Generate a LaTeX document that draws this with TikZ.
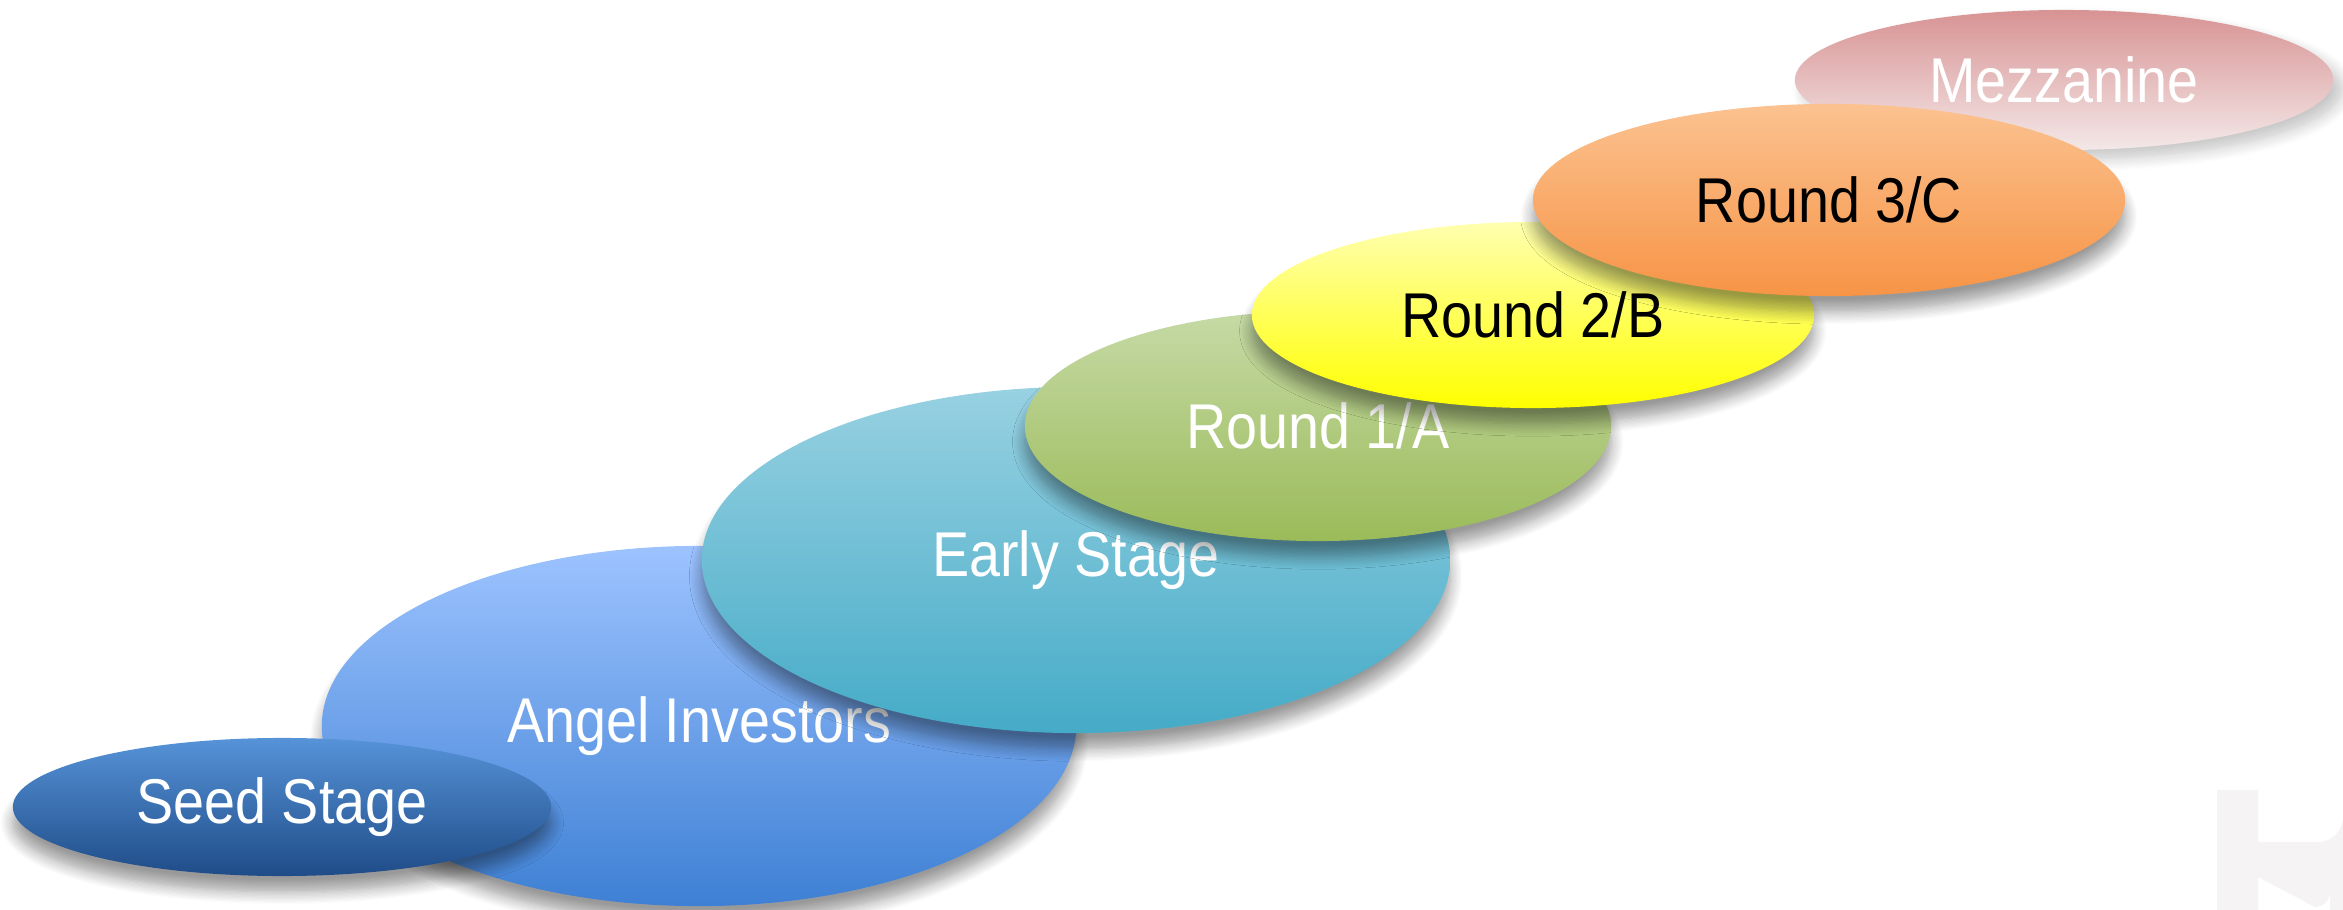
\documentclass[tikz,border=0pt]{standalone}
\usepackage{fontspec}
\setmainfont{Liberation Sans}[FakeStretch=0.88]
\usetikzlibrary{shapes.geometric,shadows.blur}
\definecolor{seedT}{HTML}{5693D8}
\definecolor{seedB}{HTML}{1F4C88}
\definecolor{angelT}{HTML}{9DC3FF}
\definecolor{angelB}{HTML}{3E80D4}
\definecolor{earlyT}{HTML}{98D1E2}
\definecolor{earlyB}{HTML}{45ABC7}
\definecolor{roneT}{HTML}{C6DAA6}
\definecolor{roneB}{HTML}{9BBB59}
\definecolor{rtwoT}{HTML}{FFFFB0}
\definecolor{rtwoB}{HTML}{FFFF00}
\definecolor{rthreeT}{HTML}{FBC290}
\definecolor{rthreeB}{HTML}{F79446}
\definecolor{mezzT}{HTML}{D89394}
\definecolor{mezzB}{HTML}{F4E8E8}
\definecolor{wmark}{HTML}{F5F3F3}
\begin{document}
\begin{tikzpicture}[x=0.01cm,y=-0.01cm,
  stage/.style={ellipse, inner sep=0pt, text=white,
    font=\fontsize{18}{20}\selectfont,
    blur shadow={shadow xshift=0pt, shadow yshift=-4.5pt, shadow blur steps=10,
      shadow blur radius=3.5pt, shadow opacity=40}},
  darktext/.style={text=black}]
\useasboundingbox (0,0) rectangle (2343,910);
% faint watermark fragment
\fill[wmark] (2217,910) -- (2217,790) -- (2258,790) -- (2258,842) -- (2318,842)
  arc[start angle=90, end angle=0, radius=25] -- (2343,910) -- (2330,910) -- (2330,892)
  arc[start angle=0, end angle=90, radius=15] -- (2258,877) -- (2258,910) -- cycle;
\node[stage, minimum width=7.54cm, minimum height=3.6cm, top color=angelT, bottom color=angelB] (angel) at (699,726) {Angel Investors};
\node[stage, minimum width=5.38cm, minimum height=1.38cm, top color=seedT, bottom color=seedB] (seed) at (282,807) {Seed Stage};
\node[stage, minimum width=7.48cm, minimum height=3.46cm, top color=earlyT, bottom color=earlyB] (early) at (1076,560) {Early Stage};
\node[stage, minimum width=5.86cm, minimum height=2.30cm, top color=roneT, bottom color=roneB] (rone) at (1318,426) {Round 1/A};
\node[stage, darktext, minimum width=5.62cm, minimum height=1.86cm, top color=rtwoT, bottom color=rtwoB] (rtwo) at (1533,315) {Round 2/B};
\node[stage, minimum width=5.38cm, minimum height=1.40cm, top color=mezzT, bottom color=mezzB, blur shadow={shadow opacity=12}] (mezz) at (2064,80) {Mezzanine};
\node[stage, darktext, minimum width=5.92cm, minimum height=1.92cm, top color=rthreeT, bottom color=rthreeB] (rthree) at (1829,200) {Round 3/C};
\end{tikzpicture}
\end{document}
